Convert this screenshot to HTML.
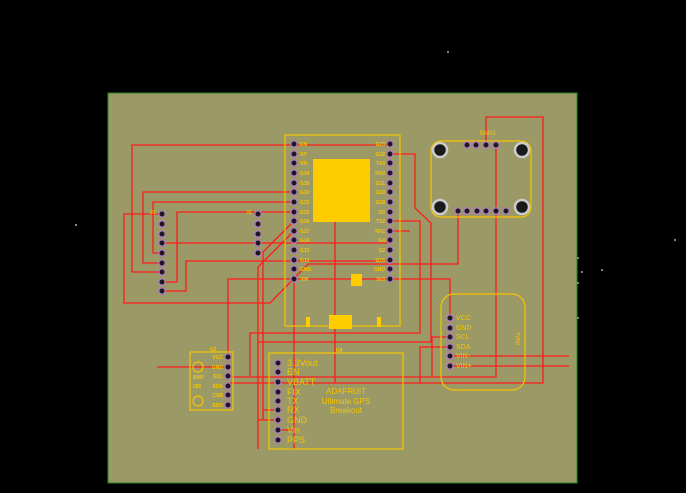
<!DOCTYPE html>
<html><head><style>html,body{margin:0;padding:0;background:#000;}svg{display:block}</style></head>
<body>
<svg width="686" height="493" viewBox="0 0 686 493" xmlns="http://www.w3.org/2000/svg" font-family="Liberation Sans, sans-serif">
<rect width="686" height="493" fill="#000"/>
<g fill="#aaa"><circle cx="448" cy="52" r="1"/><circle cx="76" cy="225" r="1"/><circle cx="602" cy="270" r="1"/><circle cx="675" cy="240" r="1"/><circle cx="582" cy="272" r="1"/><circle cx="578" cy="258" r="1"/><circle cx="578" cy="283" r="1"/><circle cx="578" cy="318" r="1"/></g>
<rect x="108" y="93" width="469" height="390" fill="#9b9a66" stroke="#2a8a2a" stroke-width="1"/>
<g stroke="#ff1a1a" stroke-width="1.3" fill="none">
<polyline points="390,145 132,145 132,272 162,272"/>
<polyline points="294,192 143,192 143,263 162,263"/>
<polyline points="294,202 153,202 153,253 162,253"/>
<polyline points="294,212 177,212 177,282 162,282"/>
<polyline points="162,214 124,214 124,303 270,303 308,264 458,264 458,211"/>
<polyline points="162,243 390,243"/>
<polyline points="162,291 186,291 186,261 390,261"/>
<polyline points="294,231 258,267 258,449"/>
<polyline points="294,221 263,252 263,420"/>
<polyline points="228,357 228,279 450,279 450,318"/>
<polyline points="390,154 415,154 415,208 431,223 431,342 258,342"/>
<polyline points="390,221 420,221 420,333 250,333 250,376"/>
<polyline points="390,231 410,231"/>
<polyline points="335,222 335,383"/>
<polyline points="294,279 294,449"/>
<polyline points="486,145 486,117 543,117 543,383 228,383"/>
<polyline points="496,145 496,377 228,377"/>
<polyline points="450,337 432,337 432,377"/>
<polyline points="450,347 420,347 420,383"/>
<polyline points="450,356 569,356"/>
<polyline points="450,366 569,366"/>
<polyline points="157,367 228,367"/>
<polyline points="278,430 294,430"/>
<polyline points="278,410 263,410"/>
<polyline points="278,420 258,420"/>
</g>
<g fill="none" stroke="#f5c400" stroke-width="1.2">
<rect x="285" y="135" width="115" height="191"/>
<rect x="431" y="141" width="100" height="76" rx="10"/>
<rect x="441" y="294" width="84" height="96" rx="13"/>
<rect x="269" y="353" width="134" height="96"/>
<rect x="190" y="352" width="43" height="58"/>
<circle cx="198" cy="367" r="5"/><circle cx="198" cy="401" r="5"/>
</g>
<g fill="#ffcc00">
<rect x="313" y="159" width="57" height="63"/>
<rect x="351" y="274" width="11" height="12"/>
<rect x="306" y="317" width="4" height="10"/>
<rect x="329" y="315" width="23" height="14"/>
<rect x="377" y="317" width="4" height="10"/>
</g>
<g fill="#1a1a1a" stroke="#b07ac0" stroke-width="1.4">
<g id="esp">
<circle cx="294" cy="144" r="3.2"/><circle cx="294" cy="154" r="3.2"/><circle cx="294" cy="163" r="3.2"/><circle cx="294" cy="173" r="3.2"/><circle cx="294" cy="183" r="3.2"/><circle cx="294" cy="192" r="3.2"/><circle cx="294" cy="202" r="3.2"/><circle cx="294" cy="212" r="3.2"/><circle cx="294" cy="221" r="3.2"/><circle cx="294" cy="231" r="3.2"/><circle cx="294" cy="240" r="3.2"/><circle cx="294" cy="250" r="3.2"/><circle cx="294" cy="260" r="3.2"/><circle cx="294" cy="269" r="3.2"/><circle cx="294" cy="279" r="3.2"/>
</g>
<use href="#esp" x="96"/>
<circle cx="162" cy="214" r="3.2"/><circle cx="162" cy="224" r="3.2"/><circle cx="162" cy="234" r="3.2"/><circle cx="162" cy="243" r="3.2"/><circle cx="162" cy="253" r="3.2"/><circle cx="162" cy="263" r="3.2"/><circle cx="162" cy="272" r="3.2"/><circle cx="162" cy="282" r="3.2"/><circle cx="162" cy="291" r="3.2"/>
<circle cx="258" cy="214" r="3.2"/><circle cx="258" cy="224" r="3.2"/><circle cx="258" cy="234" r="3.2"/><circle cx="258" cy="243" r="3.2"/><circle cx="258" cy="253" r="3.2"/>
<circle cx="467" cy="145" r="3.2"/><circle cx="476" cy="145" r="3.2"/><circle cx="486" cy="145" r="3.2"/><circle cx="496" cy="145" r="3.2"/>
<circle cx="458" cy="211" r="3.2"/><circle cx="467" cy="211" r="3.2"/><circle cx="477" cy="211" r="3.2"/><circle cx="486" cy="211" r="3.2"/><circle cx="496" cy="211" r="3.2"/><circle cx="506" cy="211" r="3.2"/>
<circle cx="450" cy="318" r="3.2"/><circle cx="450" cy="328" r="3.2"/><circle cx="450" cy="337" r="3.2"/><circle cx="450" cy="347" r="3.2"/><circle cx="450" cy="356" r="3.2"/><circle cx="450" cy="366" r="3.2"/>
<circle cx="278" cy="363" r="3.2"/><circle cx="278" cy="372" r="3.2"/><circle cx="278" cy="382" r="3.2"/><circle cx="278" cy="392" r="3.2"/><circle cx="278" cy="401" r="3.2"/><circle cx="278" cy="410" r="3.2"/><circle cx="278" cy="420" r="3.2"/><circle cx="278" cy="430" r="3.2"/><circle cx="278" cy="440" r="3.2"/>
<circle cx="228" cy="357" r="3.2"/><circle cx="228" cy="367" r="3.2"/><circle cx="228" cy="376" r="3.2"/><circle cx="228" cy="386" r="3.2"/><circle cx="228" cy="395" r="3.2"/><circle cx="228" cy="405" r="3.2"/>
</g>
<g fill="#1a1a1a" stroke="#ccc" stroke-width="2.5">
<circle cx="440" cy="150" r="7"/><circle cx="522" cy="150" r="7"/><circle cx="440" cy="207" r="7"/><circle cx="522" cy="207" r="7"/>
</g>
<g fill="#f5c400" font-size="5" font-weight="bold">
<text x="300" y="146">EN</text><text x="300" y="156">VP</text><text x="300" y="165">VN</text><text x="300" y="175">G34</text><text x="300" y="185">G35</text><text x="300" y="194">G32</text><text x="300" y="204">G33</text><text x="300" y="214">G25</text><text x="300" y="223">G26</text><text x="300" y="233">G27</text><text x="300" y="242">G14</text><text x="300" y="252">G12</text><text x="300" y="262">G13</text><text x="300" y="271">GND</text><text x="300" y="281">VIN</text>
<g text-anchor="end"><text x="385" y="146">G23</text><text x="385" y="156">G22</text><text x="385" y="165">TX0</text><text x="385" y="175">RX0</text><text x="385" y="185">G21</text><text x="385" y="194">G19</text><text x="385" y="204">G18</text><text x="385" y="214">G5</text><text x="385" y="223">TX2</text><text x="385" y="233">RX2</text><text x="385" y="242">G4</text><text x="385" y="252">G2</text><text x="385" y="262">G15</text><text x="385" y="271">GND</text><text x="385" y="281">3V3</text>
<text x="223" y="359">VCC</text><text x="223" y="369">GND</text><text x="223" y="378">SCL</text><text x="223" y="388">SDA</text><text x="223" y="397">CSB</text><text x="223" y="407">SDO</text></g>
<text x="193" y="379">BMP</text><text x="193" y="388">280</text><text x="210" y="351">U2</text><text x="336" y="352">U4</text>
<text x="480" y="135" font-size="6" font-weight="normal">BM01</text>
<text x="150" y="214">J1</text><text x="246" y="214">J2</text>
</g>
<g fill="#f5c400" font-size="7">
<text x="456" y="320">VCC</text><text x="456" y="330">GND</text><text x="456" y="339">SCL</text><text x="456" y="349">SDA</text><text x="456" y="358">VIN-</text><text x="456" y="368">VIN+</text>
<text x="520" y="345" font-size="6" transform="rotate(-90 520 345)">INA1</text>
</g>
<g fill="#f5c400" font-size="9">
<text x="287" y="366">3.3Vout</text><text x="287" y="375">EN</text><text x="287" y="385">VBATT</text><text x="287" y="395">FIX</text><text x="287" y="404">TX</text><text x="287" y="413">RX</text><text x="287" y="423">GND</text><text x="287" y="433">Vin</text><text x="287" y="443">PPS</text>
<g text-anchor="middle" font-size="8"><text x="346" y="394">ADAFRUIT</text><text x="346" y="404">Ultimate GPS</text><text x="346" y="413">Breakout</text></g>
</g>
</svg>
</body></html>
